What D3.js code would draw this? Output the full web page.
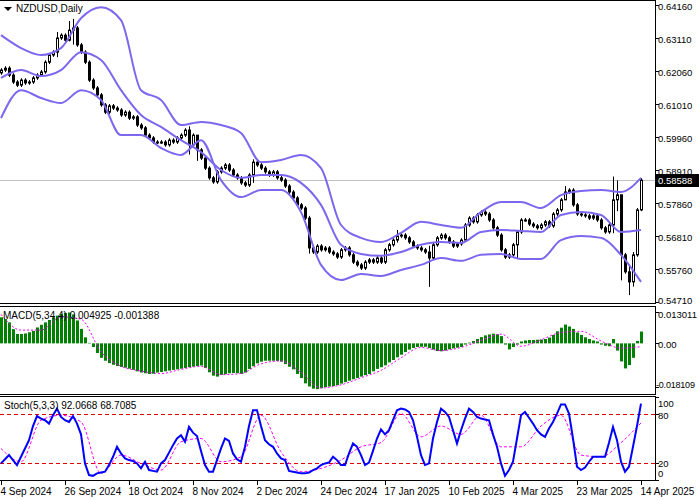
<!DOCTYPE html>
<html>
<head>
<meta charset="utf-8">
<script src="https://cdn.jsdelivr.net/npm/d3@7"></script>
<style>
body { margin: 0; background: #fff; }
text { font-family: "Liberation Sans", Arial, sans-serif; font-size: 10px; }
text.ax { font-size: 9.5px; }
text.ax.narrow { font-size: 9px; letter-spacing: -0.2px; }
</style>
</head>
<body>
<svg width="699" height="500"></svg>
<script>
// closes, one per daily bar (open = previous close)
var closes = [
.6209,.6215,.6193,.6171,.6161,.6177,.6168,.6171,.6184,.6193,.6203,.6234,.6257,.6266,.6311,.6320,.6304,.6336,.6343,.6289,
.6266,.6234,.6177,.6152,.6130,.6098,.6075,.6095,.6088,.6082,.6066,.6075,.6056,.6060,.6034,.6025,.6002,.5993,.5980,.5980,
.5980,.5971,.5986,.5980,.5993,.6002,.6018,.5971,.6002,.5955,.5929,.5897,.5866,.5853,.5885,.5897,.5907,.5891,.5875,.5866,
.5850,.5843,.5875,.5916,.5907,.5897,.5885,.5875,.5885,.5866,.5859,.5840,.5821,.5802,.5780,.5770,.5738,.5643,.5630,.5649,
.5637,.5643,.5630,.5624,.5614,.5637,.5643,.5621,.5598,.5589,.5579,.5598,.5605,.5598,.5611,.5598,.5637,.5653,.5668,.5681,
.5684,.5675,.5662,.5649,.5643,.5637,.5630,.5611,.5653,.5675,.5684,.5675,.5662,.5649,.5656,.5668,.5716,.5738,.5726,.5748,
.5757,.5751,.5732,.5707,.5684,.5637,.5614,.5621,.5653,.5694,.5732,.5732,.5719,.5713,.5707,.5716,.5726,.5713,.5751,.5764,
.5796,.5821,.5827,.5780,.5751,.5748,.5745,.5738,.5745,.5732,.5707,.5694,.5716,.5796,.5812,.5621,.5567,.5535,.5621,.5764,
.58588];
var firstOpen = 0.6200;
var wickSize = 0.0006;
// bars with long shadows: index -> [high, low]
var longWicks = {14:[.6330,.6250],17:[.6365,.6300],18:[.6372,.6290],47:[.6030,.5940],49:[.6000,.5920],63:[.5925,.5850],
  77:[.5745,.5625],99:[.5700,.5660],107:[.5650,.5519],129:[.5700,.5610],141:[.5840,.5800],153:[.5870,.5690],
  154:[.5858,.5760],155:[.5812,.5540],157:[.5590,.5493],158:[.5630,.5520],160:[.5865,.5760]};

// Bollinger bands sampled every 5 bars
var bandBars = d3.range(0, 161, 5);
var bandUpper = [.6320,.6279,.6257,.6279,.6374,.6409,.6368,.6145,.6114,.6034,.6044,.6034,.6009,.5916,.5923,.5939,.5897,
  .5716,.5675,.5662,.5691,.5726,.5716,.5707,.5757,.5789,.5789,.5770,.5811,.5824,.5827,.5821,.5866];
var bandMid = [.6184,.6209,.6190,.6209,.6266,.6241,.6145,.6066,.6028,.5986,.5948,.5891,.5866,.5875,.5875,.5850,.5780,
  .5653,.5624,.5618,.5630,.5653,.5662,.5659,.5694,.5700,.5697,.5694,.5748,.5757,.5748,.5694,.5700];
var bandLower = [.6056,.6145,.6120,.6104,.6145,.6114,.6002,.6002,.5961,.5939,.5986,.5859,.5805,.5827,.5827,.5757,.5589,
  .5541,.5560,.5554,.5573,.5589,.5611,.5602,.5621,.5624,.5608,.5608,.5668,.5681,.5675,.5621,.5535];

// MACD(5,34,4) histogram per bar, signal sampled every 5 bars
var macdHist = [
.0108,.0101,.0087,.0059,.0039,.0039,.0041,.0046,.0052,.0066,.0077,.0087,.0097,.0108,.0115,.0122,.0126,.0128,.0120,.0095,
.0060,.0025,.0002,-.0015,-.0040,-.0060,-.0072,-.0082,-.0089,-.0094,-.0098,-.0101,-.0105,-.0110,-.0116,-.0121,-.0124,-.0127,-.0126,-.0121,
-.0119,-.0116,-.0113,-.0110,-.0108,-.0105,-.0102,-.0099,-.0097,-.0094,-.0092,-.0102,-.0120,-.0134,-.0138,-.0131,-.0128,-.0124,-.0123,-.0124,
-.0127,-.0121,-.0106,-.0095,-.0083,-.0076,-.0072,-.0072,-.0072,-.0073,-.0076,-.0086,-.0097,-.0108,-.0127,-.0144,-.0166,-.0179,-.0188,-.0190,
-.0186,-.0182,-.0179,-.0177,-.0173,-.0167,-.0161,-.0155,-.0149,-.0144,-.0138,-.0132,-.0127,-.0116,-.0106,-.0099,-.0091,-.0079,-.0069,-.0058,
-.0047,-.0036,-.0026,-.0019,-.0015,-.0014,-.0014,-.0019,-.0026,-.0032,-.0033,-.0030,-.0025,-.0021,-.0018,-.0015,-.0005,.0003,.0010,.0018,
.0026,.0033,.0037,.0040,.0038,.0030,-.0005,-.0025,-.0015,-.0005,.0008,.0012,.0014,.0014,.0015,.0016,.0018,.0024,.0035,.0050,
.0065,.0078,.0070,.0060,.0045,.0035,.0025,.0018,.0012,.0008,-.0005,-.0010,-.0012,.0018,-.0030,-.0075,-.0104,-.0090,-.0060,.0010,
.0049];
var macdSignal = [.0120,.0055,.0055,.0110,.0100,-.0035,-.0095,-.0115,-.0125,-.0108,-.0095,-.0130,-.0125,-.0085,-.0073,-.0120,
  -.0185,-.0172,-.0143,-.0112,-.0060,-.0017,-.0030,-.0017,.0012,.0038,-.0012,.0015,.0045,.0050,.0010,-.0020,-.0014];

// Stochastic(5,3,3): %K per bar, %D sampled every 5 bars
var stochK = [
20,25,30,24,18,28,38,48,65,77,74,72,68,78,86,76,72,70,77,68,55,20,6,5,8,9,10,18,28,40,32,26,24,23,20,14,22,12,11,10,
20,24,33,42,50,54,46,64,57,53,35,18,10,10,24,38,50,47,32,25,22,40,65,84,84,65,48,43,40,32,26,24,11,10,9,8,8,9,12,14,
18,20,21,28,24,18,18,32,44,40,30,18,21,35,50,61,55,60,72,84,86,85,82,72,52,30,18,20,50,70,86,82,76,60,44,60,74,86,82,76,
74,73,72,55,40,20,5,12,22,50,78,82,75,68,60,55,52,62,70,80,91,91,80,50,16,12,15,22,28,28,28,28,45,64,48,22,10,16,40,65,
92.0668];
var stochD = [38,22,72,78,70,8,30,20,12,46,50,22,28,78,34,10,14,24,40,45,80,52,65,55,78,40,40,65,78,30,28,45,68.7085];

var priceTicks = [0.64160,0.63110,0.62060,0.61010,0.59960,0.58910,0.57860,0.56810,0.55760,0.54710];
var macdTicks = [0.013011, 0, -0.018109];
var macdTickLabels = ["0.013011", "0.00", "-0.018109"];
var stochLevels = [20, 80];
var stochTicks = [100, 80, 20, 0];
var dateBars = [0,16,32,48,64,80,96,112,128,144,160];
var dateLabels = ["4 Sep 2024","26 Sep 2024","18 Oct 2024","8 Nov 2024","2 Dec 2024","24 Dec 2024",
  "17 Jan 2025","10 Feb 2025","4 Mar 2025","23 Mar 2025","14 Apr 2025"];
var lastPrice = 0.58588;

var svg = d3.select("svg");
var right = 655;
var bandColor = "#7b68ee";

var x = d3.scaleLinear().domain([0, 160]).range([1, 641]);
var y = d3.scaleLinear().domain([0.54710, 0.64160]).range([302, 5]);
var ym = d3.scaleLinear().domain([-0.018109, 0.013011]).range([387, 312]);
var ys = d3.scaleLinear().domain([0, 100]).range([480, 397]);

var clip = svg.append("defs");
[["cMain",0,0,303],["cMacd",0,307,87],["cStoch",0,397,83]].forEach(function(c) {
	clip.append("clipPath").attr("id", c[0]).append("rect")
		.attr("x", c[1]).attr("y", c[2]).attr("width", right).attr("height", c[3]);
});

// ---- main panel
var main = svg.append("g").attr("clip-path", "url(#cMain)");
main.append("line").attr("x1", 0).attr("x2", right)
	.attr("y1", Math.round(y(lastPrice)) + 0.5).attr("y2", Math.round(y(lastPrice)) + 0.5)
	.attr("stroke", "#c0c0c0");

var bars = closes.map(function(c, i) {
	var o = i === 0 ? firstOpen : closes[i - 1];
	var w = longWicks[i];
	return {i: i, o: o, c: c,
		h: w ? Math.max(w[0], o, c) : Math.max(o, c) + wickSize,
		l: w ? Math.min(w[1], o, c) : Math.min(o, c) - wickSize};
});

var cg = main.append("g").selectAll("g").data(bars).enter().append("g");
cg.append("line")
	.attr("x1", function(d) { return Math.round(x(d.i)) + 0.5; })
	.attr("x2", function(d) { return Math.round(x(d.i)) + 0.5; })
	.attr("y1", function(d) { return y(d.h); })
	.attr("y2", function(d) { return y(d.l); })
	.attr("stroke", "#000");
cg.append("rect")
	.attr("x", function(d) { return Math.round(x(d.i)) - 0.5; })
	.attr("width", 2)
	.attr("y", function(d) { return y(Math.max(d.o, d.c)); })
	.attr("height", function(d) { return Math.max(1, Math.abs(y(d.o) - y(d.c))); })
	.attr("fill", function(d) { return d.c >= d.o ? "#fff" : "#000"; })
	.attr("stroke", "#000").attr("stroke-width", 1);

var bandLine = d3.line().x(function(d, i) { return x(bandBars[i]); })
	.y(function(d) { return y(d); }).curve(d3.curveMonotoneX);
[bandUpper, bandMid, bandLower].forEach(function(b) {
	main.append("path").attr("d", bandLine(b)).attr("fill", "none")
		.attr("stroke", bandColor).attr("stroke-width", 2);
});

// ---- MACD panel
var mg = svg.append("g").attr("clip-path", "url(#cMacd)");
mg.selectAll("rect").data(macdHist).enter().append("rect")
	.attr("x", function(d, i) { return Math.round(x(i)) - 1; })
	.attr("width", 3)
	.attr("y", function(d) { return Math.min(ym(d), ym(0)); })
	.attr("height", function(d) { return Math.max(0.5, Math.abs(ym(d) - ym(0))); })
	.attr("fill", "#008000");
mg.append("path")
	.attr("d", d3.line().x(function(d, i) { return x(bandBars[i]); }).y(function(d) { return ym(d); })
		.curve(d3.curveMonotoneX)(macdSignal))
	.attr("fill", "none").attr("stroke", "#ff00ff").attr("stroke-width", 1).attr("stroke-dasharray", "2,2");

// ---- Stochastic panel
var sg = svg.append("g").attr("clip-path", "url(#cStoch)");
sg.selectAll("line.lvl").data(stochLevels).enter().append("line")
	.attr("x1", 0).attr("x2", right)
	.attr("y1", function(d) { return Math.round(ys(d)) + 0.5; })
	.attr("y2", function(d) { return Math.round(ys(d)) + 0.5; })
	.attr("stroke", "#e00000").attr("stroke-dasharray", "4,3");
sg.append("path")
	.attr("d", d3.line().x(function(d, i) { return x(bandBars[i]); }).y(function(d) { return ys(d); })
		.curve(d3.curveMonotoneX)(stochD))
	.attr("fill", "none").attr("stroke", "#ff00ff").attr("stroke-width", 1).attr("stroke-dasharray", "3,2");
sg.append("path")
	.attr("d", d3.line().x(function(d, i) { return x(i); }).y(function(d) { return ys(d); })(stochK))
	.attr("fill", "none").attr("stroke", "#0000ff").attr("stroke-width", 2);

// ---- frames
[[0,303],[306,394],[396,480]].forEach(function(p) {
	svg.append("rect").attr("x", -1).attr("y", p[0] + 0.5).attr("width", right + 1.5)
		.attr("height", p[1] - p[0]).attr("fill", "none").attr("stroke", "#000");
});

// ---- right axes
function rightAxis(scale, ticks, labels, dy) {
	var g = svg.append("g");
	ticks.forEach(function(t, k) {
		var yy = Math.round(scale(t)) + 0.5;
		g.append("line").attr("x1", right).attr("x2", right + 4).attr("y1", yy).attr("y2", yy).attr("stroke", "#000");
		g.append("text").attr("class", labels[k].length > 8 ? "ax narrow" : "ax")
			.attr("x", right + (labels[k].length > 8 ? 1 : 3)).attr("y", yy + (dy ? dy[k] : 4)).text(labels[k]);
	});
}
rightAxis(y, priceTicks, priceTicks.map(d3.format(".5f")), [4,4,4,4,4,4,4,4,4,1]);
rightAxis(ym, macdTicks, macdTickLabels, [5, 4, 0]);
rightAxis(ys, stochTicks, stochTicks.map(String), [9, 4, 3, -4]);

var ly = Math.round(y(lastPrice));
svg.append("rect").attr("x", right + 1).attr("y", ly - 6).attr("width", 43).attr("height", 13).attr("fill", "#000");
svg.append("text").attr("class", "ax").attr("x", right + 3).attr("y", ly + 4).attr("fill", "#fff").text(d3.format(".5f")(lastPrice));

// ---- date axis
dateBars.forEach(function(b, k) {
	var xx = Math.round(x(b)) + 0.5;
	svg.append("line").attr("x1", xx).attr("x2", xx).attr("y1", 480).attr("y2", 485).attr("stroke", "#000");
	svg.append("text").attr("x", xx - 1).attr("y", 495).text(dateLabels[k]);
});

// ---- titles
svg.append("path").attr("d", "M4,7 L12,7 L8,11 Z").attr("fill", "#000");
svg.append("text").attr("x", 16).attr("y", 12).text("NZDUSD,Daily");
svg.append("text").attr("x", 3).attr("y", 319).text("MACD(5,34,4) 0.004925 -0.001388");
svg.append("text").attr("x", 4).attr("y", 409).text("Stoch(5,3,3) 92.0668 68.7085");
</script>
</body>
</html>
